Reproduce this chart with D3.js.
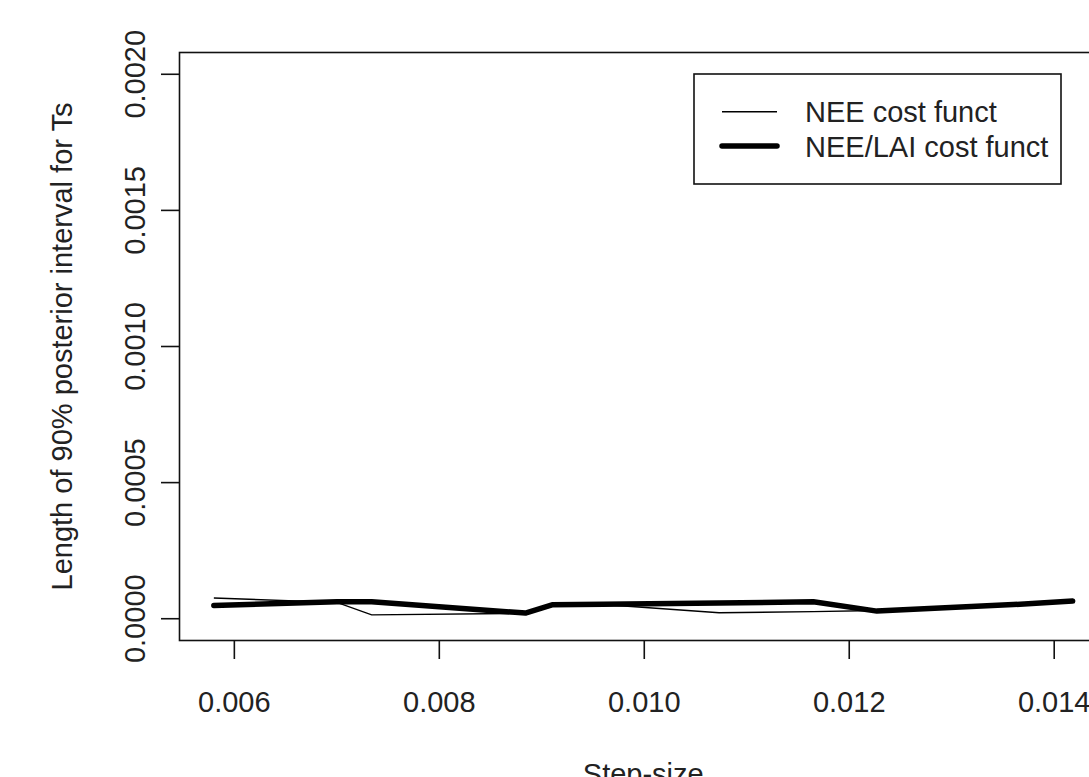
<!DOCTYPE html>
<html>
<head>
<meta charset="utf-8">
<script src="https://cdn.jsdelivr.net/npm/d3@7"></script>
<style>
  html, body { margin: 0; padding: 0; background: #fff; }
  svg { display: block; }
  text { font-family: "Liberation Sans", Arial, Helvetica, sans-serif; fill: #222; }
</style>
</head>
<body>
<svg id="chart" width="1089" height="777"></svg>
<script>
// ---- data ----
const stepSizes = [0.0058, 0.0070, 0.00734, 0.00884, 0.0091, 0.0096, 0.01073, 0.01165, 0.01227, 0.0136, 0.01418];
const neeCost    = [7.6e-5, 6.0e-5, 1.4e-5, 2.0e-5, 5.0e-5, 5.2e-5, 2.2e-5, 2.6e-5, 3.0e-5, 5.2e-5, 6.4e-5];
const neeLaiCost = [4.85e-5, 6.2e-5, 6.2e-5, 2.1e-5, 5.1e-5, 5.3e-5, 5.8e-5, 6.2e-5, 2.8e-5, 5.2e-5, 6.5e-5];
const xTicks = [0.006, 0.008, 0.010, 0.012, 0.014];
const yTicks = [0.0000, 0.0005, 0.0010, 0.0015, 0.0020];
const seriesNames = ["NEE cost funct", "NEE/LAI cost funct"];
const xTitle = "Step-size";
const yTitle = "Length of 90% posterior interval for Ts";

// ---- layout ----
const svg = d3.select("#chart");
const box = {left: 179.5, top: 52.5, right: 1107, bottom: 640.5};
const fs = 29;

// R-style 4% expansion
const xmin = d3.min(stepSizes), xmax = d3.max(stepSizes);
const xpad = (xmax - xmin) * 0.04;
const x = d3.scaleLinear().domain([xmin - xpad, xmax + xpad]).range([box.left, box.right]);
const ypad = 0.002 * 0.04;
const y = d3.scaleLinear().domain([0 - ypad, 0.002 + ypad]).range([box.bottom, box.top]);

// plot box
svg.append("rect")
  .attr("x", box.left).attr("y", box.top)
  .attr("width", box.right - box.left).attr("height", box.bottom - box.top)
  .attr("fill", "none").attr("stroke", "#111").attr("stroke-width", 1.6);

// x axis
const xAxis = svg.append("g");
xAxis.selectAll("line").data(xTicks).join("line")
  .attr("x1", d => x(d)).attr("x2", d => x(d))
  .attr("y1", box.bottom).attr("y2", box.bottom + 18.5)
  .attr("stroke", "#111").attr("stroke-width", 1.6);
xAxis.selectAll("text").data(xTicks).join("text")
  .attr("x", d => x(d)).attr("y", 712)
  .attr("text-anchor", "middle").attr("font-size", fs)
  .text(d => d3.format(".3f")(d));

// y axis
const yAxis = svg.append("g");
yAxis.selectAll("line").data(yTicks).join("line")
  .attr("x1", box.left - 18.5).attr("x2", box.left)
  .attr("y1", d => y(d)).attr("y2", d => y(d))
  .attr("stroke", "#111").attr("stroke-width", 1.6);
yAxis.selectAll("text").data(yTicks).join("text")
  .attr("transform", d => `translate(145,${y(d)}) rotate(-90)`)
  .attr("text-anchor", "middle").attr("font-size", fs)
  .text(d => d3.format(".4f")(d));

// titles
svg.append("text")
  .attr("x", (box.left + box.right) / 2).attr("y", 784)
  .attr("text-anchor", "middle").attr("font-size", fs)
  .text(xTitle);
svg.append("text")
  .attr("transform", `translate(72,${(box.top + box.bottom) / 2}) rotate(-90)`)
  .attr("text-anchor", "middle").attr("font-size", fs)
  .text(yTitle);

// lines
const line = d3.line().x(d => x(d[0])).y(d => y(d[1]));
const thinData = stepSizes.map((s, i) => [s, neeCost[i]]);
const thickData = stepSizes.map((s, i) => [s, neeLaiCost[i]]);
svg.append("path").attr("d", line(thinData))
  .attr("fill", "none").attr("stroke", "#000").attr("stroke-width", 1.4);
svg.append("path").attr("d", line(thickData))
  .attr("fill", "none").attr("stroke", "#000").attr("stroke-width", 5.5)
  .attr("stroke-linecap", "round").attr("stroke-linejoin", "round");

// legend
const lg = svg.append("g");
lg.append("rect").attr("x", 694).attr("y", 74).attr("width", 367).attr("height", 110)
  .attr("fill", "#fff").attr("stroke", "#111").attr("stroke-width", 1.6);
const rowsY = [111.7, 146];
const widths = [1.4, 5.5];
seriesNames.forEach((name, i) => {
  lg.append("line").attr("x1", 722).attr("x2", 777).attr("y1", rowsY[i]).attr("y2", rowsY[i])
    .attr("stroke", "#000").attr("stroke-width", widths[i]).attr("stroke-linecap", i ? "round" : "butt");
  lg.append("text").attr("x", 805).attr("y", rowsY[i] + 10.5)
    .attr("font-size", fs).text(name);
});
</script>
</body>
</html>
